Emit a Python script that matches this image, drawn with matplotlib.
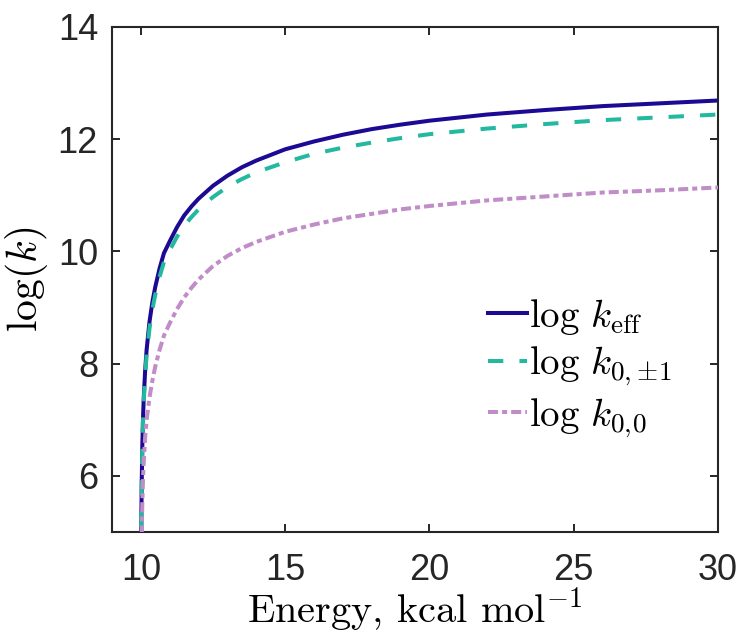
import matplotlib
matplotlib.use("Agg")
import matplotlib.pyplot as plt

# Energy grid (kcal/mol) shared by all three rate curves
energy = [10.01, 10.02, 10.03, 10.05, 10.075, 10.1, 10.15, 10.2, 10.3, 10.4,
          10.5, 10.65, 10.8, 11.0, 11.25, 11.5, 11.75, 12.0, 12.5, 13.0,
          13.5, 14.0, 15.0, 16.0, 17.0, 18.0, 19.0, 20.0, 22.0, 24.0,
          26.0, 28.0, 30.0]

log_k_eff = [4.5, 5.37, 5.88, 6.52, 7.03, 7.39, 7.89, 8.25, 8.75, 9.1,
             9.37, 9.7, 9.97, 10.18, 10.43, 10.64, 10.8, 10.94, 11.17, 11.35,
             11.5, 11.62, 11.82, 11.96, 12.08, 12.18, 12.26, 12.33, 12.44, 12.52,
             12.59, 12.64, 12.69]

log_k_0pm1 = [4.53, 5.37, 5.86, 6.48, 6.97, 7.32, 7.81, 8.15, 8.63, 8.97,
              9.23, 9.55, 9.81, 10.02, 10.26, 10.46, 10.61, 10.75, 10.97, 11.15,
              11.29, 11.41, 11.59, 11.74, 11.85, 11.94, 12.02, 12.09, 12.19, 12.27,
              12.34, 12.39, 12.44]

log_k_00 = [3.7, 4.5, 4.95, 5.5, 5.95, 6.25, 6.7, 7.0, 7.4, 7.7,
            7.95, 8.25, 8.5, 8.72, 8.97, 9.18, 9.35, 9.5, 9.74, 9.92,
            10.06, 10.17, 10.35, 10.48, 10.59, 10.67, 10.75, 10.81, 10.91, 10.98,
            11.05, 11.09, 11.14]

labels = [r"$\mathrm{log}\ k_{\mathrm{eff}}$",
          r"$\mathrm{log}\ k_{0,\!\pm\!1}$",
          r"$\mathrm{log}\ k_{0,\!0}$"]
x_ticks = [10, 15, 20, 25, 30]
y_ticks = [6, 8, 10, 12, 14]

plt.rcParams["mathtext.fontset"] = "cm"
plt.rcParams["font.family"] = ["Liberation Sans", "DejaVu Sans"]

W, H = 744, 637
fig = plt.figure(figsize=(W / 100, H / 100), dpi=100)
ax = fig.add_axes([112 / W, 1 - 532 / H, (718 - 112) / W, (532 - 27) / H])

lw = 2.9
ax.plot(energy, log_k_eff, color="#1c0a94", lw=lw, label=labels[0], zorder=3)
ax.plot(energy, log_k_0pm1, color="#23b9a0", lw=lw, dashes=(3.8, 4.0),
        label=labels[1], zorder=4)
ax.plot(energy, log_k_00, color="#c08dc8", lw=lw, dashes=(2.5, 1.0, 1.25, 1.0),
        label=labels[2], zorder=5)

ax.set_xlim(9, 30)
ax.set_ylim(5, 14)
ax.set_xticks(x_ticks)
ax.set_yticks(y_ticks)
ax.tick_params(direction="in", length=6, width=1.4, top=True, right=True,
               labelsize=26, colors="#262626")
ax.tick_params(axis="x", pad=15)
ax.tick_params(axis="y", pad=10)
for s in ax.spines.values():
    s.set_linewidth(1.5)
    s.set_color("#262626")

ax.set_xlabel(r"Energy, kcal mol$^{-1}$", fontsize=29, fontfamily="cmr10")
ax.xaxis.label.set_va("baseline")
ax.xaxis.set_label_coords(0.5, (532 - 623) / 505)
ax.set_ylabel(r"$\log(k)$", fontsize=30)
ax.yaxis.set_label_coords((50 - 112) / 606, 0.5)

ax.legend(loc="upper left", bbox_to_anchor=(488 / W, 1 - 297 / H),
          bbox_transform=fig.transFigure, frameon=False,
          fontsize=28, handlelength=1.0, handletextpad=0.05, labelspacing=0.2,
          borderpad=0.0, borderaxespad=0.0)

fig.savefig("out.png", dpi=100)
